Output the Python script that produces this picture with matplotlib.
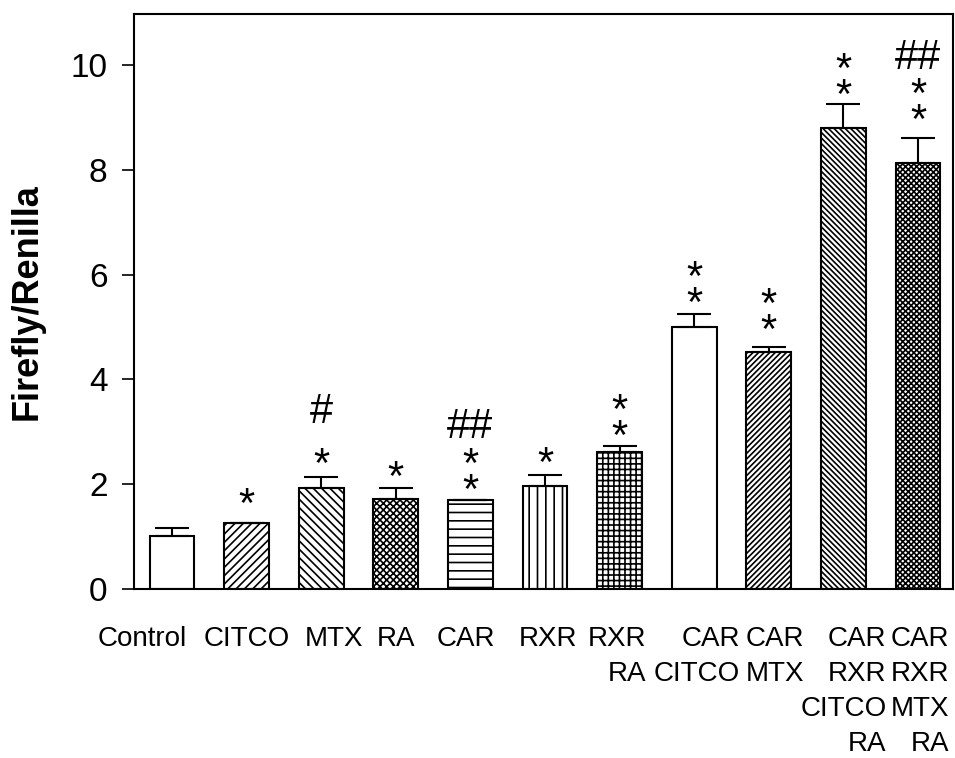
import matplotlib.pyplot as plt
import numpy as np
from matplotlib.transforms import ScaledTranslation

# data
labels = ["Control", "CITCO", "MTX", "RA", "CAR", "RXR", "RXR\nRA", "CAR\nCITCO",
          "CAR\nMTX", "CAR\nRXR\nCITCO\nRA", "CAR\nRXR\nMTX\nRA"]
values = [1.02, 1.25, 1.93, 1.72, 1.70, 1.97, 2.62, 5.00, 4.52, 8.80, 8.12]
errors = [0.15, 0.00, 0.20, 0.20, 0.00, 0.20, 0.10, 0.25, 0.10, 0.45, 0.48]
hatches = ["", "////", "\\\\\\\\", "xxxxx", "--", "||", "+++", "", "//////", "\\\\\\\\\\\\", "xxxxxx"]

# significance marks: (bar index, text, y centre)
stars = [(1, "*", 1.75), (2, "*", 2.50), (3, "*", 2.25), (4, "*\n*", 2.26),
         (5, "*", 2.53), (6, "*\n*", 3.29), (7, "*\n*", 5.83), (8, "*\n*", 5.31),
         (9, "*\n*", 9.79), (10, "*\n*", 9.32)]
hashes = [(2, "#", 3.37), (4, "##", 3.10), (10, "##", 10.13)]

# horizontal nudges of x labels (pixels), as in the original figure
label_shift = [-30, 0, 13, 0, -5, 3, -3, 3, 6, 0, 2]

plt.rcParams['font.family'] = ['Liberation Sans', 'DejaVu Sans']
plt.rcParams['hatch.linewidth'] = 1.2

fig = plt.figure(figsize=(9.55, 7.58), dpi=100)
ax = fig.add_axes([134 / 955, 1 - 589 / 758, (953 - 134) / 955, (589 - 14) / 758])

x = np.arange(len(values))
ax.bar(x, values, width=0.6, color="white", edgecolor="black", linewidth=1.5,
       hatch=hatches, zorder=2)
ax.errorbar(x, values, yerr=[np.zeros(len(errors)), errors], fmt="none",
            ecolor="black", elinewidth=1.5, capsize=12, capthick=1.5, zorder=3)

for i, txt, y in stars:
    ax.annotate(txt, (i, y), xytext=(0, -6), textcoords="offset points",
                ha="center", va="center", fontsize=30, linespacing=0.55)
for i, txt, y in hashes:
    ax.text(i, y, txt, ha="center", va="center", fontsize=30)

ax.set_xlim(-0.51, 10.47)
ax.set_ylim(0, 10.97)
ax.set_yticks([0, 2, 4, 6, 8, 10])
ax.tick_params(axis="y", labelsize=24, length=9, width=1.2, direction="out", pad=10)
ax.tick_params(axis="x", length=0, pad=27)
ax.set_xticks(x)
ax.set_xticklabels(labels, fontsize=20, linespacing=1.44, va="top", ma="right")
for lab, dx in zip(ax.get_xticklabels(), label_shift):
    lab.set_transform(lab.get_transform() + ScaledTranslation(dx / 100, 0, fig.dpi_scale_trans))
ax.set_ylabel("Firefly/Renilla", fontsize=26, fontweight="bold", labelpad=19)
for s in ax.spines.values():
    s.set_linewidth(1.5)

fig.savefig("out.png", dpi=100)
